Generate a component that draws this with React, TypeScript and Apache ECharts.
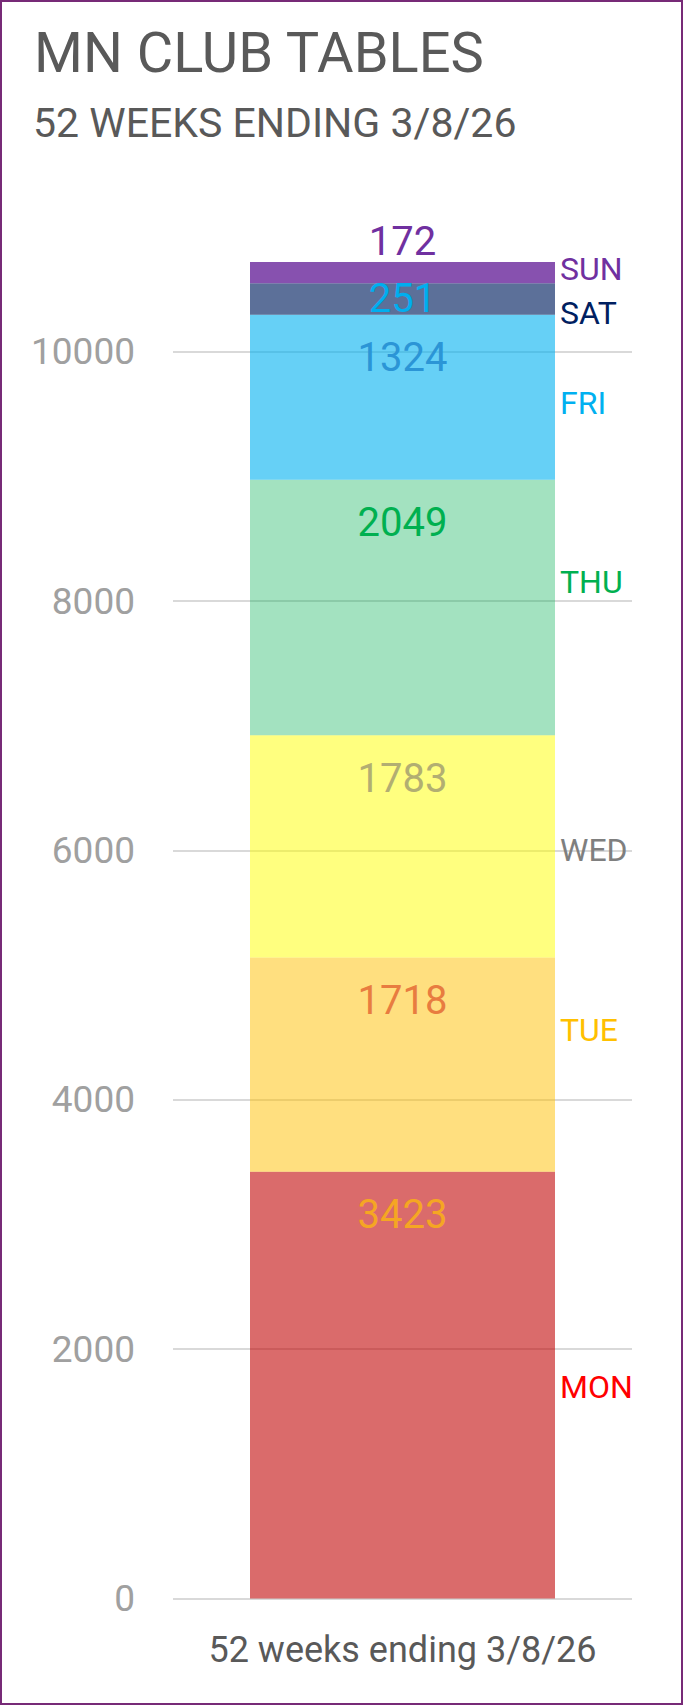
import React, { useEffect, useRef } from "react";
import * as echarts from "echarts";

const titleText = "MN CLUB TABLES";
const subtitleText = "52 WEEKS ENDING 3/8/26";
const categories = ["52 weeks ending 3/8/26"];
const days = ["MON", "TUE", "WED", "THU", "FRI", "SAT", "SUN"];
const tables = [3423, 1718, 1783, 2049, 1324, 251, 172];

const barColors = [
  "rgba(192,0,0,0.58)",
  "rgba(255,192,0,0.5)",
  "rgba(255,255,0,0.5)",
  "rgba(0,176,80,0.36)",
  "rgba(0,176,240,0.6)",
  "rgba(0,32,96,0.64)",
  "rgba(112,48,160,0.84)",
];
const valueLabelColors = ["#F5A623", "#E87C40", "#B2AE72", "#00B050", "#2B95D6", "#00AEEF", "#7030A0"];
const dayLabelColors = ["#FF0000", "#FFC000", "#7F7F7F", "#00B050", "#00B0F0", "#002060", "#7030A0"];
const dayLabelDy = [2, -35, 4, -25, 6, 14, -4];
const valueLabelPos = ["insideTop", "insideTop", "insideTop", "insideTop", "insideTop", "inside", "top"];

const FONT = "Roboto, 'Liberation Sans', sans-serif";
const BAR_W = 305;

export default function App() {
  const ref = useRef<HTMLDivElement>(null);
  useEffect(() => {
    if (!ref.current) return;
    const chart = echarts.init(ref.current, null, { renderer: "svg" });
    const valueSeries = days.map((d, i) => ({
      name: d,
      type: "bar",
      stack: "total",
      barWidth: BAR_W,
      barGap: "-100%",
      data: [tables[i]],
      itemStyle: { color: barColors[i] },
      label: {
        show: true,
        position: valueLabelPos[i],
        distance: valueLabelPos[i] === "top" ? 0 : 23,
        color: valueLabelColors[i],
        fontSize: 40,
        fontFamily: FONT,
        formatter: "{c}",
      },
      silent: true,
    }));
    const nameSeries = days.map((d, i) => ({
      name: d + "_name",
      type: "bar",
      stack: "names",
      barWidth: BAR_W,
      barGap: "-100%",
      data: [tables[i]],
      itemStyle: { color: "rgba(0,0,0,0)" },
      label: {
        show: true,
        position: "right",
        distance: 5,
        offset: [0, dayLabelDy[i]],
        color: dayLabelColors[i],
        fontSize: 32,
        fontFamily: FONT,
        formatter: d,
      },
      silent: true,
    }));
    chart.setOption({
      animation: false,
      backgroundColor: "#ffffff",
      title: [
        {
          text: titleText,
          left: 34,
          top: 25,
          padding: 0,
          textStyle: { fontSize: 56, fontWeight: "normal", color: "#595959", fontFamily: FONT },
        },
        {
          text: subtitleText,
          left: 33,
          top: 102,
          padding: 0,
          textStyle: { fontSize: 41, fontWeight: "normal", color: "#595959", fontFamily: FONT },
        },
      ],
      grid: { left: 173, right: 51, top: 102.3, bottom: 106.5, containLabel: false },
      xAxis: {
        type: "category",
        data: categories,
        axisLine: { show: false },
        axisTick: { show: false },
        axisLabel: { color: "#595959", fontSize: 36, fontFamily: FONT, margin: 33 },
      },
      yAxis: {
        type: "value",
        min: 0,
        max: 12000,
        interval: 2000,
        axisLine: { show: false },
        axisTick: { show: false },
        axisLabel: {
          color: "#A0A0A0",
          fontSize: 37,
          fontFamily: FONT,
          margin: 38,
          showMaxLabel: false,
          formatter: (v: number) => (v >= 12000 ? "" : String(v)),
        },
        splitLine: { show: true, showMaxLine: false, lineStyle: { color: "#D9D9D9", width: 2 } },
      },
      graphic: [
        {
          type: "rect",
          shape: { x: 1, y: 1, width: 681, height: 1703 },
          style: { fill: "none", stroke: "#772A77", lineWidth: 2 },
          silent: true,
        },
      ],
      series: [...valueSeries, ...nameSeries],
    });
    return () => chart.dispose();
  }, []);
  return (
    <div
      ref={ref}
      style={{ position: "absolute", left: 0, top: 0, width: 683, height: 1705 }}
    />
  );
}
